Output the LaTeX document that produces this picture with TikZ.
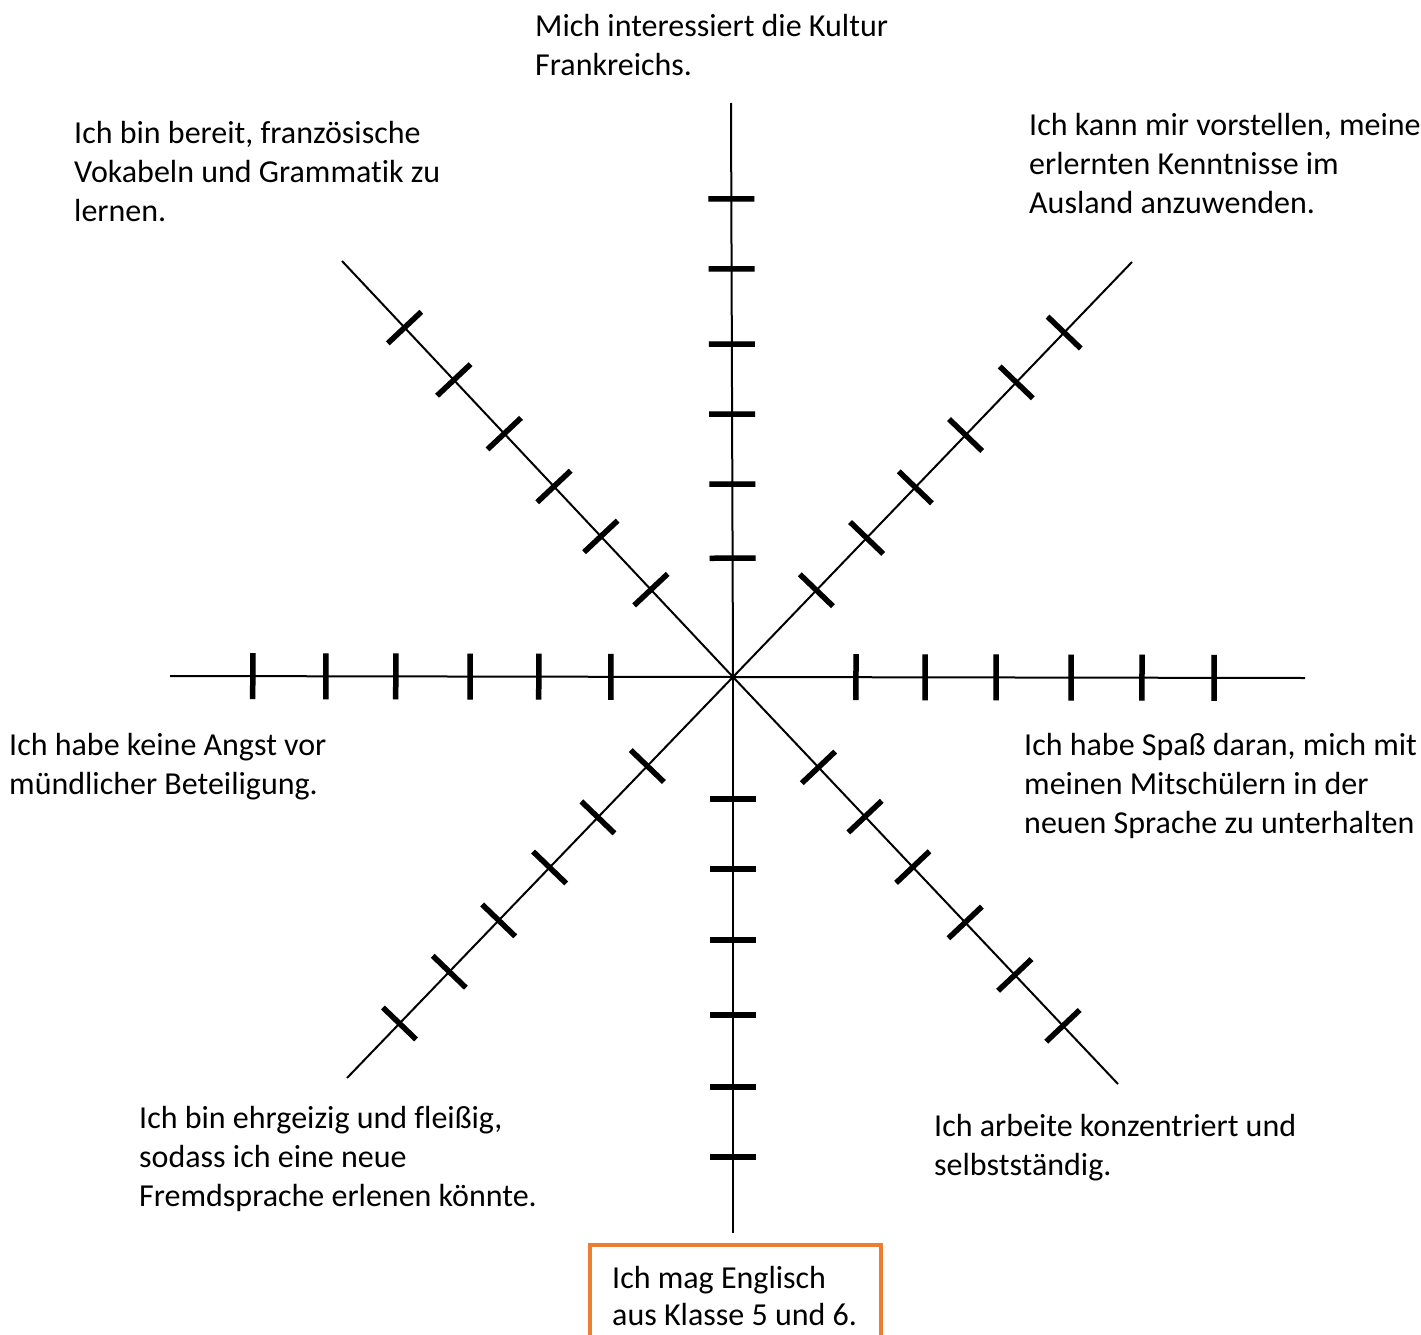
\documentclass[tikz,border=0pt]{standalone}
\usepackage{fontspec}
\setmainfont[Ligatures={NoCommon}]{Carlito}
\usetikzlibrary{calc}
\definecolor{boxorange}{RGB}{237,125,49}
\tikzset{
  axis/.style={line width=2pt, black},
  tickmark/.style={line width=5.5pt, black},
  tickshadow/.style={line width=5.5pt, black, opacity=0.12},
  lbl/.style={inner sep=0pt, anchor=base west, align=left, font=\fontsize{32}{39}\selectfont},
  obox/.style={draw=boxorange, line width=4pt}
}
\begin{document}
\begin{tikzpicture}[x=1pt,y=-1pt]
\useasboundingbox (0,0) rectangle (1421,1335);
\clip (0,0) rectangle (1421,1335);
\coordinate (c) at (733,677);
\coordinate (eN) at (731,103);
\coordinate (eS) at (733,1233);
\coordinate (eW) at (170,676);
\coordinate (eE) at (1305,678);
\coordinate (eNW) at (342,261);
\coordinate (eNE) at (1132,262);
\coordinate (eSW) at (347,1078);
\coordinate (eSE) at (1118,1084);
\foreach \e in {eN,eS,eW,eE,eNW,eNE,eSW,eSE}{
  \draw[axis] (c) -- (\e);
}
\foreach \e/\fl in {
  eN/{0.833,0.711,0.580,0.458,0.336,0.207},
  eS/{0.219,0.345,0.473,0.608,0.737,0.863},
  eW/{0.217,0.345,0.467,0.599,0.723,0.853},
  eE/{0.215,0.336,0.460,0.591,0.715,0.841},
  eNW/{0.840,0.714,0.585,0.458,0.338,0.210},
  eNE/{0.830,0.710,0.583,0.457,0.335,0.209},
  eSW/{0.222,0.350,0.475,0.607,0.735,0.864},
  eSE/{0.222,0.343,0.467,0.603,0.732,0.857}}{
  \foreach \f in \fl {
    \coordinate (t) at ($(c)!\f!(\e)$);
    \draw[tickshadow, shift={(2,3)}] ($(t)!23pt!90:(c)$) -- ($(t)!23pt!-90:(c)$);
    \draw[tickmark] ($(t)!23pt!90:(c)$) -- ($(t)!23pt!-90:(c)$);
  }
}
\node[lbl] (lN) at (535,76) {Mich interessiert die Kultur\\Frankreichs.};
\node[lbl] (lNW) at (74,221) {Ich bin bereit, französische\\Vokabeln und Grammatik zu\\lernen.};
\node[lbl] (lNE) at (1029,213) {Ich kann mir vorstellen, meine\\erlernten Kenntnisse im\\Ausland anzuwenden.};
\node[lbl] (lW) at (9,794) {Ich habe keine Angst vor\\mündlicher Beteiligung.};
\node[lbl] (lE) at (1024,833) {Ich habe Spaß daran, mich mit\\meinen Mitschülern in der\\neuen Sprache zu unterhalten};
\node[lbl] (lSW) at (139,1206) {Ich bin ehrgeizig und fleißig,\\sodass ich eine neue\\Fremdsprache erlenen könnte.};
\node[lbl] (lSE) at (934,1175) {Ich arbeite konzentriert und\\selbstständig.};
\coordinate (b1) at (590,1245);
\coordinate (b2) at (881,1360);
\draw[obox] (b1) rectangle (b2);
\node[lbl, font=\fontsize{32}{37}\selectfont] (lS) at (612,1325) {Ich mag Englisch\\aus Klasse 5 und 6.};
\end{tikzpicture}
\end{document}
